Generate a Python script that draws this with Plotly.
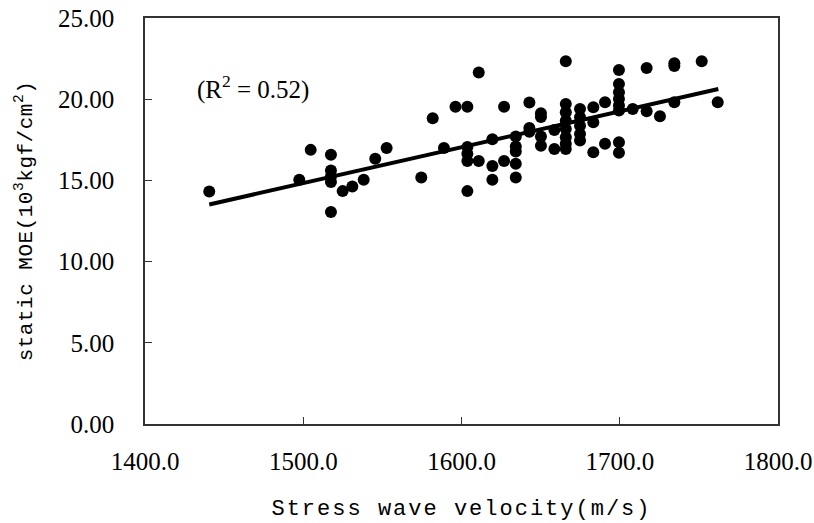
import plotly.graph_objects as go

velocity = [1440.6, 1497.5, 1504.7, 1517.5, 1517.5, 1517.5, 1517.5, 1517.5, 1524.9, 1531.0,
            1538.2, 1545.5, 1552.7, 1574.6, 1581.8, 1588.9, 1596.2, 1603.7, 1603.7, 1603.7,
            1603.7, 1603.7, 1610.9, 1610.9, 1619.5, 1619.5, 1619.5, 1626.9, 1626.9, 1634.3,
            1634.3, 1634.3, 1634.3, 1634.3, 1642.9, 1642.9, 1642.9, 1650.2, 1650.2, 1650.2,
            1650.2, 1658.7, 1658.7, 1665.9, 1665.9, 1665.9, 1665.9, 1665.9, 1665.9, 1665.9,
            1665.9, 1674.9, 1674.9, 1674.9, 1674.9, 1674.9, 1683.3, 1683.3, 1683.3, 1690.7,
            1690.7, 1699.5, 1699.5, 1699.5, 1699.5, 1699.5, 1699.5, 1699.5, 1699.5, 1708.2,
            1717.0, 1717.0, 1725.4, 1734.5, 1734.5, 1734.5, 1751.8, 1761.9]
moe = [14.32, 15.04, 16.88, 16.58, 15.61, 15.24, 14.90, 13.05, 14.34, 14.63,
       15.04, 16.33, 17.00, 15.18, 18.83, 17.00, 19.53, 19.53, 17.05, 16.64,
       16.19, 14.34, 21.64, 16.19, 17.54, 15.88, 15.04, 19.53, 16.19, 17.70,
       17.09, 16.78, 16.02, 15.18, 19.79, 18.23, 18.00, 19.13, 18.90, 17.70,
       17.13, 18.11, 16.94, 22.33, 19.70, 19.19, 18.68, 18.17, 17.66, 17.25,
       16.94, 19.40, 18.89, 18.37, 17.86, 17.45, 19.50, 18.58, 16.74, 19.81,
       17.25, 21.80, 20.94, 20.43, 20.02, 19.61, 19.30, 17.35, 16.70, 19.40,
       21.92, 19.26, 18.95, 22.21, 22.05, 19.81, 22.33, 19.81]

trend_x = [1440.6, 1762.3]
trend_y = [13.52, 20.63]

x_ticks = [1400, 1500, 1600, 1700, 1800]
x_labels = ["1400.0", "1500.0", "1600.0", "1700.0", "1800.0"]
y_ticks = [0, 5, 10, 15, 20, 25]
y_labels = ["0.00", "5.00", "10.00", "15.00", "20.00", "25.00"]

r2_text = "(R<sup>2</sup> = 0.52)"
r2_pos = (1431.6, 20.7)

tick_font = dict(family="Liberation Serif", size=25, color="black")
xtitle_font = dict(family="Liberation Mono", size=22, color="black")
ytitle_font = dict(family="Liberation Mono", size=21, color="black")

fig = go.Figure()
fig.add_trace(go.Scatter(x=trend_x, y=trend_y, mode="lines",
                         line=dict(color="black", width=4), showlegend=False))
fig.add_trace(go.Scatter(x=velocity, y=moe, mode="markers",
                         marker=dict(color="black", size=12), showlegend=False))

fig.add_annotation(x=r2_pos[0], y=r2_pos[1], text=r2_text, showarrow=False,
                   xanchor="left", yanchor="middle", font=dict(family="Liberation Serif", size=25, color="black"))

fig.update_layout(
    width=814, height=523,
    margin=dict(l=145, r=36, t=18, b=99),
    plot_bgcolor="white", paper_bgcolor="white",
    xaxis=dict(range=[1400, 1800], tickvals=x_ticks, ticktext=x_labels, automargin=False,
               ticks="inside", ticklen=7, tickcolor="#333", showgrid=False, zeroline=False,
               showline=True, linecolor="#333", linewidth=1.5, mirror=True,
               tickfont=tick_font, ticklabelstandoff=14,
               title=dict(text="Stress wave velocity(m/s)", font=xtitle_font, standoff=26)),
    yaxis=dict(range=[0, 25], tickvals=y_ticks, ticktext=y_labels, automargin=False,
               ticks="inside", ticklen=7, tickcolor="#333", showgrid=False, zeroline=False,
               showline=True, linecolor="#333", linewidth=1.5, mirror=True,
               tickfont=tick_font, ticklabelstandoff=24,
               title=dict(text="static MOE(10<sup>3</sup>kgf/cm<sup>2</sup>)", font=ytitle_font, standoff=20)),
)

post = """
document.querySelectorAll('.g-xtitle text').forEach(function(t){t.style.letterSpacing='2px';});
document.querySelectorAll('.g-ytitle text').forEach(function(t){t.style.letterSpacing='0.5px';});
"""
fig.write_html("out.html", post_script=post)
